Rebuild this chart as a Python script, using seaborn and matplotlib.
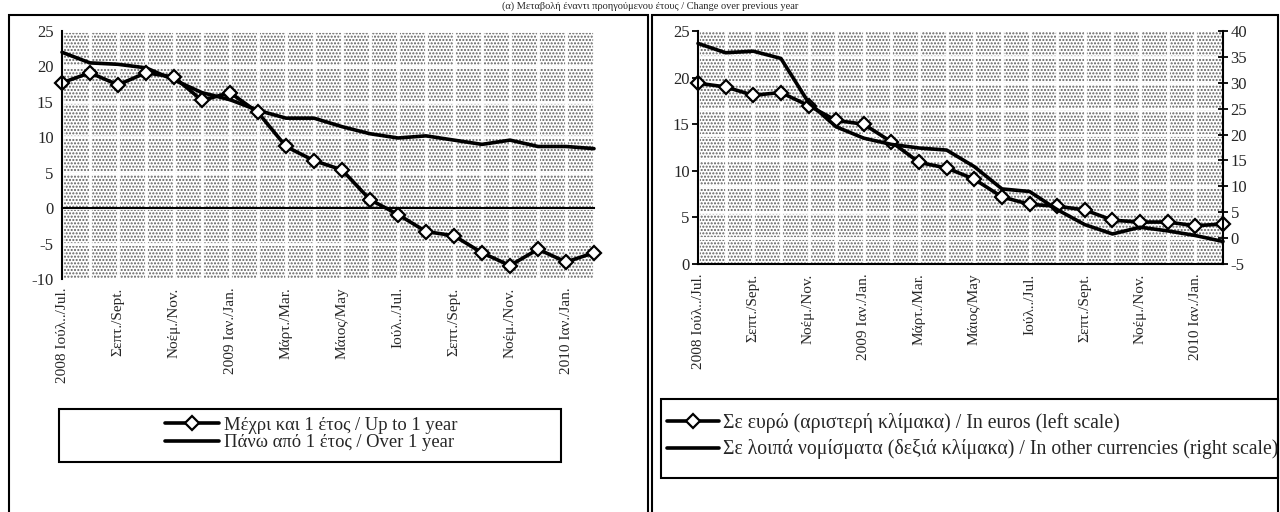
import matplotlib
matplotlib.use('Agg')
import pandas as pd
import matplotlib.pyplot as plt
import seaborn as sns
from matplotlib.patches import Rectangle

# monthly data, Jul 2008 - Feb 2010 (annual % change)
months = ['2008 Ιούλ../Jul.', '', 'Σεπτ./Sept.', '', 'Νοέμ./Nov.', '', '2009 Ιαν./Jan.', '',
          'Μάρτ./Mar.', '', 'Μάιος/May', '', 'Ιούλ../Jul.', '', 'Σεπτ./Sept.', '',
          'Νοέμ./Nov.', '', '2010 Ιαν./Jan.', '']

up_to_1y = [17.7, 19.1, 17.4, 19.1, 18.5, 15.2, 16.3, 13.5, 8.7, 6.7,
            5.4, 1.2, -0.9, -3.3, -3.9, -6.3, -8.1, -5.8, -7.6, -6.3]
over_1y = [22.0, 20.5, 20.3, 19.8, 18.1, 16.3, 15.3, 13.8, 12.7, 12.7,
           11.5, 10.5, 9.9, 10.2, 9.6, 9.0, 9.6, 8.7, 8.7, 8.4]
in_euros = [19.4, 19.0, 18.1, 18.4, 17.0, 15.4, 15.0, 13.1, 10.9, 10.3,
            9.1, 7.2, 6.4, 6.2, 5.8, 4.7, 4.5, 4.5, 4.1, 4.3]
other_ccy = [37.6, 35.8, 36.1, 34.7, 26.2, 21.5, 19.3, 18.1, 17.4, 17.0,
             13.8, 9.5, 9.0, 5.5, 2.6, 0.8, 2.1, 1.4, 0.5, -0.65]

lab_up = 'Μέχρι και 1 έτος / Up to 1 year'
lab_over = 'Πάνω από 1 έτος / Over 1 year'
lab_eur = 'Σε ευρώ (αριστερή κλίμακα) / In euros (left scale)'
lab_oth = 'Σε λοιπά νομίσματα (δεξιά κλίμακα) / In other currencies (right scale)'

df = pd.DataFrame({'idx': range(len(months)), 'up': up_to_1y, 'over': over_1y,
                   'eur': in_euros, 'oth': other_ccy})

sns.set_style('white')
plt.rcParams['font.family'] = ['Liberation Serif', 'DejaVu Serif']
plt.rcParams['axes.unicode_minus'] = False

W, H = 1280, 512
fig = plt.figure(figsize=(W / 100, H / 100), dpi=100)


def px(x0, y0, x1, y1):
    return [x0 / W, 1 - y1 / H, (x1 - x0) / W, (y1 - y0) / H]


line_kw = dict(color='black', linewidth=2.6, clip_on=False)
diamond_kw = dict(marker='D', markersize=7.5, markerfacecolor='white',
                  markeredgecolor='black', markeredgewidth=1.6)
YT = 12
XT = 11


def background(ax):
    ax.add_patch(Rectangle((0, 0), 1, 1, transform=ax.transAxes, facecolor='white',
                           edgecolor='#5f5f5f', hatch='.....', lw=0, zorder=0))
    ax.set_axisbelow(True)
    ax.grid(True, axis='x', color='white', linewidth=2)


# ---------- left chart ----------
ax = fig.add_axes(px(62, 31, 594, 279))
background(ax)
sns.lineplot(data=df, x='idx', y='over', ax=ax, label=lab_over, **line_kw)
sns.lineplot(data=df, x='idx', y='up', ax=ax, label=lab_up, **line_kw, **diamond_kw)
ax.set_xlim(0, len(months) - 1)
ax.set_ylim(-10, 25)
ax.set_yticks(range(-10, 26, 5))
ax.grid(True, axis='y', color='white', linewidth=2)
ax.set_xticks(range(len(months)))
ax.set_xlabel('')
ax.set_ylabel('')
for s in ['top', 'right']:
    ax.spines[s].set_visible(False)
ax.spines['bottom'].set_position(('data', 0))
for s in ['left', 'bottom']:
    ax.spines[s].set_linewidth(1.5)
    ax.spines[s].set_color('black')
ax.tick_params(axis='x', labelbottom=False, direction='out', length=4, width=1.3, color='black')
ax.tick_params(axis='y', direction='out', length=4, width=1.3, color='black', labelsize=YT, pad=2)
sec = ax.secondary_xaxis('bottom')
sec.set_xticks(range(len(months)))
sec.set_xticklabels(months, rotation=90, fontsize=XT)
sec.tick_params(length=0, pad=6)
sec.spines['bottom'].set_visible(False)
h, l = ax.get_legend_handles_labels()
ax.get_legend().remove()
fig.legend(h[::-1], l[::-1], loc='center', bbox_to_anchor=(311 / W, 1 - 434 / H),
           frameon=False, fontsize=13.4, handlelength=2.9, handletextpad=0.25,
           labelspacing=0.0, borderpad=0, borderaxespad=0)

# ---------- right chart ----------
axr = fig.add_axes(px(698, 31, 1223, 264))
background(axr)
sns.lineplot(data=df, x='idx', y='eur', ax=axr, label=lab_eur, **line_kw, **diamond_kw)
axr.set_xlim(0, len(months) - 1)
axr.set_ylim(0, 25)
axr.set_yticks(range(0, 26, 5))
# horizontal grid follows right-scale ticks
right_ticks = list(range(-5, 41, 5))
axr.set_yticks([(r + 5) * 25 / 45 for r in right_ticks], minor=True)
axr.grid(True, axis='y', which='minor', color='white', linewidth=2)
axr.tick_params(axis='y', which='minor', length=0)
axr.set_xticks(range(len(months)))
axr.set_xticklabels(months, rotation=90, fontsize=XT)
axr.set_xlabel('')
axr.set_ylabel('')
axr.spines['top'].set_visible(False)
axr.spines['right'].set_visible(False)
for s in ['left', 'bottom']:
    axr.spines[s].set_linewidth(1.5)
    axr.spines[s].set_color('black')
axr.tick_params(axis='x', direction='out', length=4, width=1.3, color='black', pad=3)
axr.tick_params(axis='y', which='major', direction='out', length=4, width=1.3, color='black',
                labelsize=YT, pad=2)

ax2 = axr.twinx()
sns.lineplot(data=df, x='idx', y='oth', ax=ax2, label=lab_oth, **line_kw)
ax2.set_ylim(-5, 40)
ax2.set_yticks(right_ticks)
ax2.set_ylabel('')
for s in ['top', 'left', 'bottom']:
    ax2.spines[s].set_visible(False)
ax2.spines['right'].set_linewidth(1.5)
ax2.spines['right'].set_color('black')
ax2.tick_params(axis='y', direction='inout', length=7, width=1.3, color='black',
                labelsize=YT, pad=2)

h1, l1 = axr.get_legend_handles_labels()
h2, l2 = ax2.get_legend_handles_labels()
axr.get_legend().remove()
ax2.get_legend().remove()
fig.legend(h1 + h2, l1 + l2, loc='center left', bbox_to_anchor=(667 / W, 1 - 436 / H),
           frameon=False, fontsize=14.2, handlelength=2.65, handletextpad=0.2,
           labelspacing=0.35, borderpad=0, borderaxespad=0)

# ---------- frames ----------
for r in [px(9, 15, 648, 530), px(652, 15, 1278, 530),
          px(59, 409, 561, 462), px(661, 399, 1278, 478)]:
    fig.add_artist(Rectangle((r[0], r[1]), r[2], r[3], transform=fig.transFigure,
                             fill=False, edgecolor='black', linewidth=1.5))

fig.text(650 / W, 1 - 1 / H, '(α) Μεταβολή έναντι προηγούμενου έτους / Change over previous year',
         ha='center', va='top', fontsize=7.5)

fig.savefig('out.png', dpi=100)
